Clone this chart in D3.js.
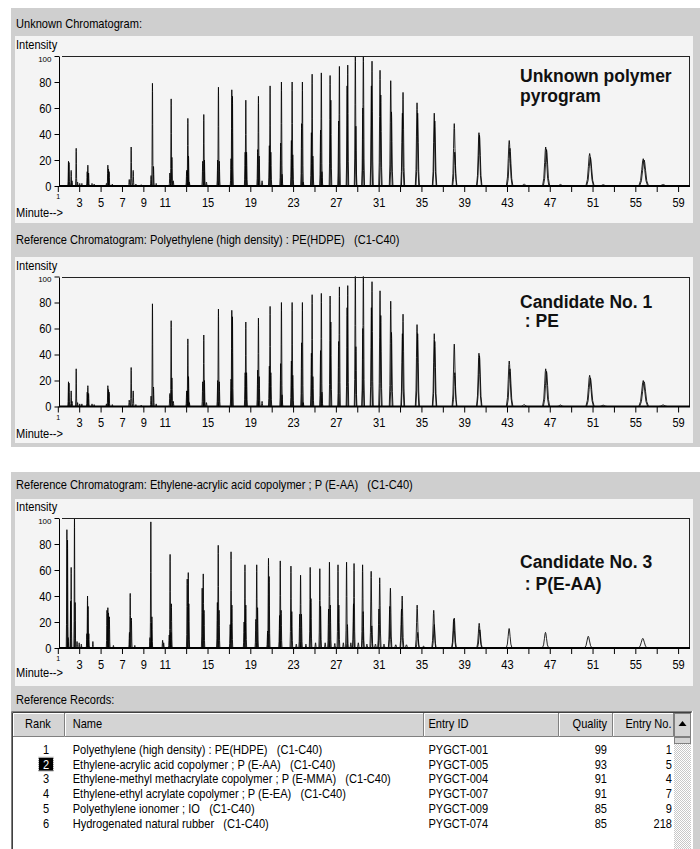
<!DOCTYPE html>
<html>
<head>
<meta charset="utf-8">
<script src="https://cdn.jsdelivr.net/npm/d3@7/dist/d3.min.js"></script>
<style>
  html, body { margin: 0; padding: 0; background: #ffffff; }
  svg { display: block; }
  text { white-space: pre; }
</style>
</head>
<body>
<svg id="chart" width="700" height="849"></svg>
<script>
// ---- axis ticks ----
const minuteTicks = [1, 3, 5, 7, 9, 11, 13, 15, 17, 19, 21, 23, 25, 27, 29, 31, 33, 35, 37, 39, 41, 43, 45, 47, 49, 51, 53, 55, 57, 59];
const minuteLabels = [1, 3, 5, 7, 9, 11, 15, 19, 23, 27, 31, 35, 39, 43, 47, 51, 55, 59];
const intensityTicks = [0, 20, 40, 60, 80, 100];

// ---- panel texts ----
const panelTitles = [
  "Unknown Chromatogram:",
  "Reference Chromatogram: Polyethylene (high density) : PE(HDPE)   (C1-C40)",
  "Reference Chromatogram: Ethylene-acrylic acid copolymer ; P (E-AA)   (C1-C40)"
];
const panelNotes = [
  ["Unknown polymer", "pyrogram"],
  ["Candidate No. 1", " : PE"],
  ["Candidate No. 3", " : P(E-AA)"]
];

// ---- peak tables: [retention time (min), relative intensity] ----
const unknownPeaks = [
  [2.00, 19], [2.05, 18], [2.25, 12], [2.33, 4], [2.72, 29], [2.85, 3], [3.05, 2], [3.25, 2],
  [3.75, 11], [3.81, 16], [3.88, 10], [4.2, 2], [4.4, 1.5],
  [5.55, 2], [5.68, 16], [5.74, 13], [5.80, 11], [6.1, 1.5],
  [7.68, 5], [7.86, 30], [8.05, 12], [8.3, 1.5], [8.8, 1],
  [9.72, 8], [9.85, 79], [9.95, 15], [10.2, 2],
  [11.48, 10], [11.60, 67], [11.67, 22], [11.8, 4],
  [13.05, 12], [13.12, 12], [13.16, 52], [13.22, 23], [13.3, 3],
  [14.55, 19], [14.65, 55], [14.71, 20], [14.9, 3],
  [15.95, 20], [16.02, 76], [16.10, 19],
  [17.20, 21], [17.27, 74], [17.33, 69],
  [18.52, 26], [18.58, 66], [18.65, 26],
  [19.69, 28], [19.76, 69], [19.83, 23], [20.1, 4],
  [20.78, 31], [20.85, 77], [20.92, 26],
  [21.84, 33], [21.91, 80], [21.97, 9],
  [22.84, 35], [22.91, 80], [22.97, 24],
  [23.80, 48], [23.87, 80], [23.95, 3],
  [24.71, 41], [24.78, 86], [24.85, 23],
  [25.57, 43], [25.64, 87], [25.70, 11],
  [26.46, 85], [26.53, 66],
  [27.26, 50], [27.33, 92],
  [28.05, 77], [28.11, 93],
  [28.82, 104], [28.87, 46],
  [29.52, 60], [29.57, 104],
  [30.32, 77], [30.38, 96],
  [31.13, 89], [31.20, 70],
  [32.13, 81], [32.20, 57],
  [33.22, 56], [33.28, 72],
  [34.59, 64], [34.65, 56],
  [36.20, 56], [36.25, 50],
  [38.07, 48], [38.12, 26],
  [40.38, 41], [40.43, 39],
  [43.21, 35], [43.28, 29],
  [44.6, 1.5],
  [46.62, 30], [46.70, 28],
  [48.0, 1.2],
  [50.73, 25], [50.80, 22],
  [52.0, 1],
  [55.74, 21], [55.82, 20],
  [57.6, 1.2]
];

const candidate1Peaks = [
  [2.00, 19], [2.05, 18], [2.25, 12], [2.33, 4], [2.72, 29], [2.85, 3], [3.05, 2], [3.25, 2],
  [3.75, 11], [3.81, 16], [3.88, 10], [4.2, 2], [4.4, 1.5],
  [5.55, 2], [5.68, 16], [5.74, 13], [5.80, 11], [6.1, 1.5],
  [7.68, 5], [7.86, 30], [8.05, 12], [8.3, 1.5], [8.8, 1],
  [9.72, 8], [9.85, 79], [9.95, 15], [10.2, 2],
  [11.48, 10], [11.60, 66], [11.67, 22], [11.8, 4],
  [13.05, 12], [13.12, 12], [13.16, 52], [13.22, 23], [13.3, 3],
  [14.55, 19], [14.65, 55], [14.71, 20], [14.9, 3],
  [15.95, 20], [16.02, 75], [16.10, 19],
  [17.20, 21], [17.27, 74], [17.33, 69],
  [18.52, 26], [18.58, 65], [18.65, 26],
  [19.69, 28], [19.76, 68], [19.83, 23], [20.1, 4],
  [20.78, 31], [20.85, 77], [20.92, 26],
  [21.84, 33], [21.91, 80], [21.97, 9],
  [22.84, 35], [22.91, 80], [22.97, 24],
  [23.80, 49], [23.87, 80], [23.95, 3],
  [24.71, 41], [24.78, 86], [24.85, 23],
  [25.57, 43], [25.64, 87], [25.70, 11],
  [26.46, 85], [26.53, 65],
  [27.26, 50], [27.33, 92],
  [28.05, 76], [28.11, 93],
  [28.82, 104], [28.87, 46],
  [29.52, 60], [29.57, 104],
  [30.32, 76], [30.38, 96],
  [31.13, 89], [31.20, 70],
  [32.13, 81], [32.20, 57],
  [33.22, 56], [33.28, 71],
  [34.59, 63], [34.65, 56],
  [36.20, 56], [36.25, 50],
  [38.07, 48], [38.12, 26],
  [40.38, 41], [40.43, 39],
  [43.21, 35], [43.28, 29],
  [44.6, 1.5],
  [46.62, 29], [46.70, 27],
  [48.0, 1.2],
  [50.73, 24], [50.80, 22],
  [52.0, 1],
  [55.74, 20], [55.82, 19],
  [57.6, 1.2]
];

const candidate3Peaks = [
  [1.85, 91], [1.91, 83], [1.97, 8], [2.20, 36], [2.25, 62], [2.56, 101], [2.62, 35], [2.8, 5], [3.0, 4], [3.2, 3],
  [3.72, 11], [3.78, 40], [3.83, 32], [3.90, 11], [4.28, 5],
  [5.60, 29], [5.68, 31], [5.74, 27], [5.82, 24], [6.2, 2],
  [7.70, 12], [7.77, 42], [7.88, 23], [8.2, 2],
  [9.62, 8], [9.70, 97], [9.75, 19], [9.80, 24], [10.8, 6], [10.9, 4],
  [11.42, 10], [11.50, 72], [11.58, 12], [11.62, 34],
  [13.10, 53], [13.20, 58], [13.25, 34],
  [14.50, 46], [14.60, 57], [14.67, 29],
  [15.92, 35], [16.00, 79], [16.08, 29],
  [17.12, 18], [17.20, 74], [17.28, 33],
  [18.42, 20], [18.50, 64], [18.58, 33],
  [19.52, 22], [19.60, 64], [19.68, 31],
  [20.62, 13], [20.70, 69], [20.76, 55],
  [21.74, 25], [21.80, 67], [21.88, 29],
  [22.80, 63], [22.88, 28], [23.3, 3],
  [23.62, 26], [23.70, 56], [23.78, 26], [24.2, 3],
  [24.60, 62], [24.67, 38], [25.1, 4],
  [25.50, 61], [25.57, 32], [26.0, 4],
  [26.32, 30], [26.40, 66], [26.48, 33], [26.9, 3.5],
  [27.20, 64], [27.28, 33], [27.7, 4],
  [28.00, 66], [28.08, 18], [28.4, 4],
  [28.65, 34], [28.70, 65], [29.1, 4],
  [29.50, 64], [29.55, 28], [29.9, 3],
  [30.30, 59], [30.36, 17], [30.7, 3],
  [31.03, 30], [31.10, 54], [31.5, 3],
  [32.04, 32], [32.10, 46], [32.6, 2.5],
  [33.14, 30], [33.20, 40], [33.6, 2.5],
  [34.60, 33], [34.66, 12], [35.2, 1.5],
  [36.15, 29], [36.20, 18],
  [38.02, 22], [38.07, 23],
  [40.40, 19], [40.46, 14],
  [43.20, 15],
  [46.60, 12],
  [50.60, 9],
  [55.70, 7.4]
];

// ---- reference records table ----
const recordRank = [1, 2, 3, 4, 5, 6];
const recordName = [
  "Polyethylene (high density) : PE(HDPE)   (C1-C40)",
  "Ethylene-acrylic acid copolymer ; P (E-AA)   (C1-C40)",
  "Ethylene-methyl methacrylate copolymer ; P (E-MMA)   (C1-C40)",
  "Ethylene-ethyl acrylate copolymer ; P (E-EA)   (C1-C40)",
  "Polyethylene ionomer ; IO   (C1-C40)",
  "Hydrogenated natural rubber   (C1-C40)"
];
const recordEntryId = ["PYGCT-001", "PYGCT-005", "PYGCT-004", "PYGCT-007", "PYGCT-009", "PYGCT-074"];
const recordQuality = [99, 93, 91, 91, 85, 85];
const recordEntryNo = [1, 5, 4, 7, 9, 218];
const selectedRank = 2;

// ---------------------------------------------------------------
const svg = d3.select("#chart");
const uiFont = "'Liberation Sans',Arial,sans-serif";
const GRAY = "#cfcfcf", PANEL = "#f4f4f4";
const UI_SIZE = 12.5, UI_K = 0.885;      // condensed dialog lettering
const TICK_SIZE = 13.5, TICK_K = 0.82;   // condensed axis numerals

// condensed text: horizontal squeeze about the anchor point
function uiText(parent, x, y, str, anchor = "start", fill = "#000", size = UI_SIZE, k = UI_K) {
  return parent.append("text")
    .attr("transform", `translate(${x},${y}) scale(${k},1)`)
    .attr("text-anchor", anchor)
    .attr("font-family", uiFont).attr("font-size", size).attr("fill", fill)
    .text(str);
}

const defs = svg.append("defs");

// window background boxes
svg.append("rect").attr("x", 11).attr("y", 8).attr("width", 689).attr("height", 439).attr("fill", GRAY);
svg.append("rect").attr("x", 11).attr("y", 472).attr("width", 689).attr("height", 377).attr("fill", GRAY);

const x = d3.scaleLinear().domain([1, 60]).range([57.8, 688.8]);
const sigma = d3.scaleLinear().domain([0, 28, 36, 40, 43, 47, 51, 56]).range([0.02, 0.03, 0.06, 0.075, 0.09, 0.1, 0.12, 0.14]).clamp(true);
// gaussian-like outline of a single peak, in units of sigma
const profile = [[-3, 0], [-1.8, 0.2], [-1, 0.6], [-0.4, 0.92], [0, 1], [0.4, 0.92], [1, 0.6], [1.8, 0.2], [3, 0]];

const panels = [
  { peaks: unknownPeaks, bgTop: 36, bgBottom: 223, titleY: 28, plotTop: 56, noteY: [82, 101.5], minuteY: 217 },
  { peaks: candidate1Peaks, bgTop: 257, bgBottom: 443, titleY: 244, plotTop: 276.5, noteY: [307.5, 327], minuteY: 438 },
  { peaks: candidate3Peaks, bgTop: 499, bgBottom: 686, titleY: 489, plotTop: 518, noteY: [567.5, 589.5], minuteY: 677 }
];

panels.forEach((p, i) => {
  const g = svg.append("g");
  g.append("rect").attr("x", 15).attr("y", p.bgTop).attr("width", 678).attr("height", p.bgBottom - p.bgTop).attr("fill", PANEL);
  uiText(g, 16, p.titleY, panelTitles[i]);

  const base = p.plotTop + 130;
  const y = d3.scaleLinear().domain([0, 100]).range([base, p.plotTop]);
  const x0 = Math.round(x.range()[0]) + 1;
  const x1 = Math.round(x.range()[1]);

  uiText(g, 16, p.plotTop - 7, "Intensity");
  uiText(g, 16, p.minuteY, "Minute-->");

  // peaks
  const clipId = "plotClip" + i;
  defs.append("clipPath").attr("id", clipId).append("rect")
    .attr("x", x0).attr("y", p.plotTop).attr("width", x1 - x0).attr("height", 131);
  const line = d3.line();
  g.append("g").attr("clip-path", `url(#${clipId})`)
    .selectAll("path").data(p.peaks).join("path")
    .attr("d", d => line(profile.map(([u, f]) => [x(d[0] + u * sigma(d[0])), y(d[1] * f)])))
    .attr("fill", "none").attr("stroke", "#000").attr("stroke-width", 0.85).attr("stroke-linejoin", "round");

  // frame
  g.append("line").attr("x1", x0 + 3).attr("x2", x1).attr("y1", Math.round(p.plotTop) + 0.5).attr("y2", Math.round(p.plotTop) + 0.5)
    .attr("stroke", "#222").attr("stroke-width", 1);
  g.append("line").attr("x1", x1 + 0.5).attr("x2", x1 + 0.5).attr("y1", Math.round(p.plotTop)).attr("y2", base)
    .attr("stroke", "#222").attr("stroke-width", 1);

  // x axis
  const xAxis = d3.axisBottom(x).tickValues(minuteTicks).tickSize(6).tickSizeOuter(0).tickPadding(5)
    .tickFormat(d => minuteLabels.includes(d) ? d : "");
  const gx = g.append("g").attr("transform", `translate(0,${base})`).call(xAxis);
  gx.select(".domain").remove();
  gx.selectAll(".tick line").attr("stroke", "#000");
  gx.selectAll(".tick text").attr("font-family", uiFont).attr("font-size", TICK_SIZE).attr("fill", "#000")
    .attr("transform", `scale(${TICK_K},1)`);
  // the first minute label is squeezed against the axis corner
  gx.selectAll(".tick").filter(d => d === 1).select("text")
    .attr("font-size", 7).attr("y", 13).attr("dy", 0).attr("transform", null);
  g.append("line").attr("x1", x0).attr("x2", x1 + 1).attr("y1", base).attr("y2", base)
    .attr("stroke", "#000").attr("stroke-width", 2);

  // y axis
  const yAxis = d3.axisLeft(y).tickValues(intensityTicks).tickSize(5).tickSizeOuter(0).tickPadding(3);
  const gy = g.append("g").attr("transform", `translate(${x0 + 0.5},0)`).call(yAxis);
  gy.select(".domain").remove();
  gy.selectAll(".tick line").attr("stroke", "#000");
  gy.selectAll(".tick text").attr("font-family", uiFont).attr("font-size", TICK_SIZE).attr("fill", "#000")
    .attr("x", -8 / TICK_K).attr("transform", `scale(${TICK_K},1)`);
  // the top label sits tucked under the "Intensity" caption
  gy.selectAll(".tick").filter(d => d === 100).select("text")
    .attr("font-size", 8).attr("dy", 0).attr("y", 5).attr("x", -8).attr("transform", null);
  g.append("line").attr("x1", x0 + 0.5).attr("x2", x0 + 0.5).attr("y1", p.plotTop + 1).attr("y2", base)
    .attr("stroke", "#000").attr("stroke-width", 1);

  // annotation
  const note = g.append("text").attr("font-family", uiFont).attr("font-weight", "bold").attr("font-size", 17.5).attr("fill", "#111");
  panelNotes[i].forEach((t, k) => note.append("tspan").attr("x", 520).attr("y", p.noteY[k]).text(t));
});

// ---- reference records ----
uiText(svg, 16, 704, "Reference Records:");

const tbl = svg.append("g");
const tTop = 711, tLeft = 11, tRight = 693, headH = 25;
tbl.append("rect").attr("x", tLeft).attr("y", tTop).attr("width", tRight - tLeft).attr("height", 849 - tTop).attr("fill", "#ffffff");
tbl.append("path").attr("d", `M${tLeft + 0.5},849V${tTop + 0.5}H${tRight - 0.5}`).attr("fill", "none").attr("stroke", "#808080");
tbl.append("path").attr("d", `M${tLeft + 1.5},849V${tTop + 1.5}H${tRight - 1.5}`).attr("fill", "none").attr("stroke", "#404040");
tbl.append("path").attr("d", `M${tRight - 0.5},${tTop}V849`).attr("fill", "none").attr("stroke", "#ffffff");

// header cells: [left, right, label, anchor, text x]
const headCols = [
  [13, 65, "Rank", "start", 25],
  [65, 424, "Name", "start", 72.7],
  [424, 559, "Entry ID", "start", 428.5],
  [559, 613, "Quality", "end", 607],
  [613, 674, "Entry No.", "end", 671.5]
];
headCols.forEach(c => {
  const [l, r, label, anchor, tx] = c;
  tbl.append("rect").attr("x", l).attr("y", tTop + 2).attr("width", r - l).attr("height", headH - 1).attr("fill", "#d4d4d4");
  tbl.append("path").attr("d", `M${l + 0.5},${tTop + headH}V${tTop + 2.5}H${r - 1}`).attr("fill", "none").attr("stroke", "#ffffff");
  tbl.append("path").attr("d", `M${l},${tTop + headH + 0.5}H${r - 0.5}V${tTop + 2}`).attr("fill", "none").attr("stroke", "#808080");
  uiText(tbl, tx, tTop + 17, label, anchor);
});

// scrollbar
const sbL = 674, sbR = 691;
defs.append("pattern").attr("id", "track").attr("width", 2).attr("height", 2).attr("patternUnits", "userSpaceOnUse")
  .call(pt => {
    pt.append("rect").attr("width", 2).attr("height", 2).attr("fill", "#ffffff");
    pt.append("rect").attr("width", 1).attr("height", 1).attr("fill", "#c8c8c8");
    pt.append("rect").attr("x", 1).attr("y", 1).attr("width", 1).attr("height", 1).attr("fill", "#c8c8c8");
  });
tbl.append("rect").attr("x", sbL).attr("y", tTop + 2).attr("width", sbR - sbL).attr("height", 849 - tTop).attr("fill", "url(#track)");
tbl.append("rect").attr("x", sbL + 0.5).attr("y", tTop + 2.5).attr("width", sbR - sbL - 1).attr("height", headH - 2).attr("fill", "#d4d4d4")
  .attr("stroke", "#808080").attr("stroke-width", 1);
tbl.append("path").attr("d", `M${(sbL + sbR) / 2},${tTop + 10}l4,5h-8z`).attr("fill", "#000");
tbl.append("rect").attr("x", sbL + 0.5).attr("y", tTop + headH + 1.5).attr("width", sbR - sbL - 1).attr("height", 6)
  .attr("fill", "#d4d4d4").attr("stroke", "#808080");

// rows
const rowY = d3.scaleLinear().domain([0, 1]).range([754, 768.7]);
recordRank.forEach((r, i) => {
  const by = rowY(i);
  if (r === selectedRank) {
    tbl.append("rect").attr("x", 39).attr("y", by - 11).attr("width", 14).attr("height", 13).attr("fill", "#000");
    tbl.append("rect").attr("x", 38.5).attr("y", by - 11.5).attr("width", 15).attr("height", 14)
      .attr("fill", "none").attr("stroke", "#888").attr("stroke-dasharray", "1,1");
  }
  uiText(tbl, 46, by, r, "middle", r === selectedRank ? "#fff" : "#000");
  uiText(tbl, 72.7, by, recordName[i]);
  uiText(tbl, 428.5, by, recordEntryId[i]);
  uiText(tbl, 607, by, recordQuality[i], "end");
  uiText(tbl, 672, by, recordEntryNo[i], "end");
});
</script>
</body>
</html>
